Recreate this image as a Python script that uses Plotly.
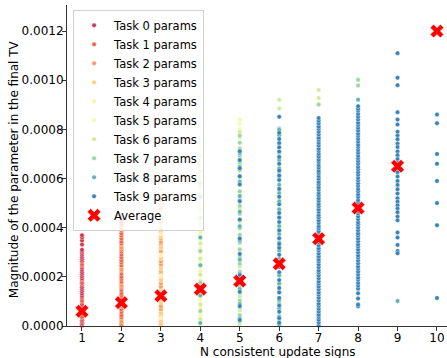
import plotly.graph_objects as go

# All magnitudes below are in units of 1e-5
UNIT = 1e-5

task_labels = ["Task 0 params", "Task 1 params", "Task 2 params", "Task 3 params",
               "Task 4 params", "Task 5 params", "Task 6 params", "Task 7 params",
               "Task 8 params", "Task 9 params"]
task_colors = ["#d0384e", "#ee6445", "#fa9c59", "#fece7c", "#fef1a7",
               "#f4faad", "#d0ec9c", "#98d6a4", "#5cb7a9", "#3683ba"]

x_ticks = [1, 2, 3, 4, 5, 6, 7, 8, 9, 10]
avg_n = [1, 2, 3, 4, 5, 6, 7, 8, 9, 10]
avg_mag = [6.0, 9.5, 12.3, 15.0, 18.3, 25.3, 35.5, 48.0, 65.0, 120.0]

# column 1
c1_t0 = [0.2, 0.6, 1.1, 1.7, 2.3, 2.8, 3.4, 4.1, 4.9, 5.6, 6.3, 7.2, 8.0, 8.9, 9.8, 10.6, 11.5,
         12.3, 13.2, 14.1, 15.0, 15.8, 16.7, 17.6, 18.4, 19.3, 20.2, 21.1, 21.9, 22.8, 23.7,
         24.5, 25.4, 26.3, 27.2, 28.0, 28.9, 29.7, 30.4, 31.0, 33.2, 34.8, 36.1, 36.9]
c1_t1 = [3.6, 10.2, 17.4, 24.9]
# column 2
c2_t1 = [0.3, 1.2, 2.4, 3.5, 4.4, 5.7, 6.8, 7.9, 9.1, 10.0, 11.2, 12.5, 13.4, 14.6, 15.7, 16.8,
         17.9, 19.1, 20.0, 21.2, 22.5, 23.4, 24.6, 25.8, 26.7, 27.9, 29.0, 30.2, 31.1, 32.3,
         33.5, 34.4, 35.6, 36.8, 37.7, 38.9, 40.0, 41.2, 42.3, 43.2, 44.1, 44.9]
c2_t2 = [1.8, 8.4, 16.2, 23.0, 31.7, 39.5]
# column 3
c3_t2 = [0.4, 1.6, 2.9, 4.1, 5.5, 6.8, 8.0, 9.4, 10.7, 12.1, 13.3, 14.6, 16.0, 17.3, 18.5, 19.9,
         21.2, 22.4, 23.8, 25.1, 26.3, 27.7, 29.0, 30.4, 31.6, 32.9, 34.2, 35.6, 36.8, 38.1,
         39.5, 40.7, 42.0, 43.4, 44.6, 46.0, 47.2, 48.5, 49.9, 51.0, 52.4]
c3_t3 = [1.0, 5.2, 9.8, 14.1, 18.9, 23.2, 27.6, 32.0, 36.3, 40.9, 45.3, 49.4, 53.1, 55.0]
c3_t4 = [3.3, 11.6, 20.4, 28.8, 37.5, 46.1, 54.2]
# column 4
c4_t4 = [0.2, 1.9, 3.8, 5.6, 7.5, 9.3, 11.2, 13.0, 14.9, 16.8, 18.6, 20.5, 22.3, 24.2, 26.0,
         27.9, 29.7, 31.6, 33.4, 35.3, 37.1, 39.0, 40.8, 42.7, 44.5, 46.4, 48.2, 50.1, 51.9,
         53.8, 55.6, 57.5, 59.3, 61.2, 63.0, 64.9, 66.7, 68.6, 70.4, 72.3, 74.0]
c4_t5 = [4.6, 15.4, 26.1, 38.3, 49.7, 60.8, 71.5, 75.2]
c4_t6 = [2.8, 8.7, 14.1, 20.9, 27.4, 33.6, 41.5, 47.8, 56.4, 62.9, 69.3]
c4_t7 = [6.1, 17.7, 30.5, 44.0, 58.2]
c4_t8 = [1.2, 12.4, 24.7, 36.0, 52.6]
# column 5
c5_t5 = [80.3, 82.4, 84.0]
c5_t6 = [0.8, 6.3, 12.0, 18.4, 24.2, 30.1, 36.5, 42.3, 48.0, 54.4, 60.2, 66.1, 72.5, 76.8, 79.0]
c5_t7 = [1.9, 4.4, 7.6, 10.3, 13.5, 16.2, 19.4, 22.1, 25.3, 28.0, 31.2, 33.9, 37.1, 39.8, 43.0,
         45.7, 48.9, 51.6, 54.8, 57.5, 60.7, 63.4, 66.6, 69.3, 72.0, 74.6, 77.5]
c5_t8 = [3.1, 9.0, 15.1, 21.3, 27.0, 34.8, 40.6, 46.5, 52.9, 58.7, 64.8, 70.4]
c5_t9 = [2.4, 8.1, 13.9, 20.7, 29.3, 35.6, 43.3, 50.8, 57.6, 60.9, 64.2, 67.5, 71.1]
# column 6
c6_t6 = [92.0, 88.5]
c6_t7 = [2.0, 9.5, 17.1, 24.8, 32.3, 39.9, 47.6, 55.2, 62.7, 70.3, 77.9, 80.4]
c6_t8 = [0.6, 3.9, 7.2, 10.6, 13.9, 17.3, 20.6, 24.0, 27.3, 30.7, 34.0, 37.4, 40.7, 44.1, 47.4,
         50.8, 54.1, 57.5, 60.8, 64.2, 67.5, 70.9, 74.2, 77.6, 79.8]
c6_t9 = [1.3, 3.2, 5.8, 8.3, 11.4, 13.6, 15.5, 18.7, 21.9, 24.0, 26.2, 29.0, 31.8, 33.4, 35.7,
         38.9, 42.3, 44.1, 46.0, 49.5, 52.6, 55.8, 59.4, 61.2, 63.3, 66.0, 68.8, 71.0, 72.7,
         74.5, 76.1, 78.6, 85.1]
# column 7
c7_t6 = [96.0, 92.8]
c7_t7 = [90.1, 82.7, 63.5, 44.8]
c7_t8 = [5.3, 16.6, 28.1, 37.9, 49.3, 58.8, 69.4, 76.5, 81.2]
c7_t9 = [0.2, 1.4, 2.5, 3.7, 4.6, 5.9, 7.0, 8.2, 9.1, 10.4, 11.5, 12.7, 13.6, 14.9, 16.0, 17.2,
         18.1, 19.4, 20.5, 21.7, 22.6, 23.9, 25.0, 26.2, 27.1, 28.4, 29.5, 30.7, 31.6, 32.9,
         34.0, 35.2, 36.1, 37.4, 38.5, 39.7, 40.6, 41.9, 43.0, 44.2, 45.1, 46.4, 47.5, 48.7,
         49.6, 50.9, 52.0, 53.2, 54.1, 55.4, 56.5, 57.7, 58.6, 59.9, 61.0, 62.2, 63.1, 64.4,
         65.5, 66.7, 67.6, 68.9, 70.0, 71.2, 72.1, 73.4, 74.5, 75.7, 76.6, 77.9, 79.0, 80.2,
         81.1, 82.4, 83.5, 84.6]
# column 8
c8_t7 = [100.2, 97.8, 85.3, 81.6]
c8_t8 = [92.1, 79.0, 66.4, 52.7, 40.9, 31.2, 22.5]
c8_t9 = [8.0, 8.7, 11.2, 13.3, 15.2, 16.4, 17.5, 18.8, 19.7, 21.0, 22.1, 23.3, 24.2, 25.5, 26.6,
         27.8, 28.7, 30.0, 31.1, 32.3, 33.2, 34.5, 35.6, 36.8, 37.7, 39.0, 40.1, 41.3, 42.2,
         43.5, 44.6, 45.8, 46.7, 48.0, 49.1, 50.3, 51.2, 52.5, 53.6, 54.8, 55.7, 57.0, 58.1,
         59.3, 60.2, 61.5, 62.6, 63.8, 64.7, 66.0, 67.1, 68.3, 69.2, 70.5, 71.6, 72.8, 73.7,
         75.0, 76.1, 77.3, 78.2, 79.5, 80.6, 81.8, 82.7, 84.0, 85.1, 86.3, 87.6, 88.4, 89.4]
# column 9
c9_t8 = [10.2]
c9_t9 = [111.0, 101.0, 98.0, 87.0, 84.0, 82.0, 79.0, 77.5, 76.0, 74.2, 72.8, 71.0, 69.5, 67.9,
         66.3, 64.0, 62.6, 60.8, 59.0, 57.4, 55.6, 53.9, 52.0, 50.6, 49.1, 47.8, 46.3, 44.5,
         43.0, 38.0, 36.0, 33.0, 30.5, 29.6]
# column 10
c10_t9 = [86.0, 82.5, 70.0, 66.0, 59.0, 50.0, 41.0, 11.4]

task_columns = [
    [(1, c1_t0)],
    [(1, c1_t1), (2, c2_t1)],
    [(2, c2_t2), (3, c3_t2)],
    [(3, c3_t3)],
    [(3, c3_t4), (4, c4_t4)],
    [(4, c4_t5), (5, c5_t5)],
    [(4, c4_t6), (5, c5_t6), (6, c6_t6), (7, c7_t6)],
    [(4, c4_t7), (5, c5_t7), (6, c6_t7), (7, c7_t7), (8, c8_t7)],
    [(4, c4_t8), (5, c5_t8), (6, c6_t8), (7, c7_t8), (8, c8_t8), (9, c9_t8)],
    [(5, c5_t9), (6, c6_t9), (7, c7_t9), (8, c8_t9), (9, c9_t9), (10, c10_t9)],
]

x_title = "N consistent update signs"
y_title = "Magnitude of the parameter in the final TV"

FONT = "DejaVu Sans"
fig = go.Figure()
for label, color, cols in zip(task_labels, task_colors, task_columns):
    xs, ys = [], []
    for n, vals in cols:
        xs += [n] * len(vals)
        ys += [v * UNIT for v in vals]
    fig.add_trace(go.Scatter(
        x=xs, y=ys, mode="markers", name=label, cliponaxis=False,
        marker=dict(size=4.5, color=color, line=dict(width=0.4, color="white")),
    ))

fig.add_trace(go.Scatter(
    x=avg_n, y=[v * UNIT for v in avg_mag], mode="markers", name="Average", cliponaxis=False,
    marker=dict(symbol="x", size=12, color="red", line=dict(width=0.5, color="white")),
))

fig.update_layout(
    width=447, height=358,
    margin=dict(l=67, r=0, t=5, b=32),
    paper_bgcolor="white", plot_bgcolor="white",
    font=dict(family=FONT, size=12, color="black"),
    showlegend=True,
    legend=dict(
        x=0.016, y=0.985, xanchor="left", yanchor="top",
        bgcolor="rgba(255,255,255,0.8)", bordercolor="#d0d0d0", borderwidth=1,
        font=dict(family=FONT, size=11.5, color="black"),
        tracegroupgap=0,
    ),
    xaxis=dict(
        range=[0.62, 10.254], tickmode="array", tickvals=x_ticks,
        ticktext=[str(t) for t in x_ticks], automargin=False,
        showgrid=False, zeroline=False, showline=True, linecolor="#333", linewidth=1,
        ticks="outside", ticklen=4, tickcolor="#333", ticklabelstandoff=-3,
        tickfont=dict(family=FONT, size=12),
    ),
    yaxis=dict(
        range=[0, 0.001306], tickmode="array",
        tickvals=[0, 0.0002, 0.0004, 0.0006, 0.0008, 0.0010, 0.0012],
        tickformat=".4f", automargin=False,
        showgrid=False, zeroline=False, showline=True, linecolor="#333", linewidth=1,
        ticks="outside", ticklen=4, tickcolor="#333", ticklabelstandoff=-4,
        tickfont=dict(family=FONT, size=12),
    ),
    annotations=[
        dict(text=x_title, xref="paper", yref="paper", x=0.554, y=-0.082,
             xanchor="center", yanchor="middle", showarrow=False,
             font=dict(family=FONT, size=12, color="black")),
        dict(text=y_title, xref="paper", yref="paper", x=-0.141, y=0.49,
             xanchor="center", yanchor="middle", textangle=-90, showarrow=False,
             font=dict(family=FONT, size=12, color="black")),
    ],
)

fig.write_html(
    "out.html",
    config={"displayModeBar": False},
    post_script="document.body.style.margin='0';document.body.style.overflow='hidden';",
)
